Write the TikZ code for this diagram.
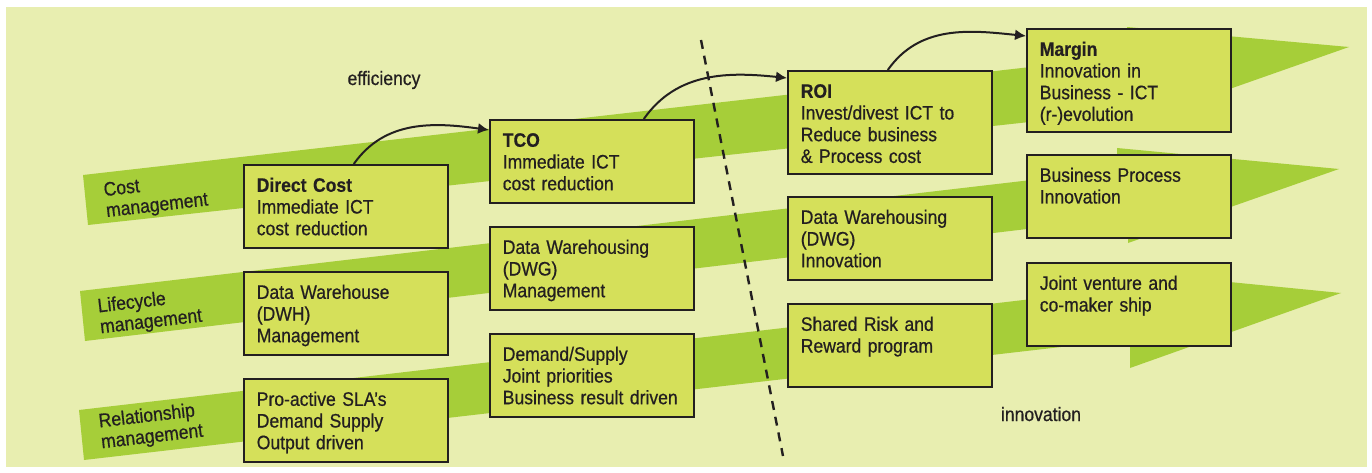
\documentclass[tikz,border=0pt]{standalone}
\usepackage{fontspec}
\setmainfont[FakeStretch=0.9, UprightFeatures={FakeBold=0.6}, BoldFeatures={FakeBold=0.4}]{Liberation Sans}
\usepackage{tikz}
\usetikzlibrary{arrows.meta}

\definecolor{paper}{RGB}{232,238,176}
\definecolor{band}{RGB}{166,206,57}
\definecolor{card}{RGB}{213,224,90}
\definecolor{ink}{RGB}{35,31,32}

\tikzstyle{stage} = [draw=ink, line width=1.6pt, fill=card, anchor=north west, text=ink,
	inner xsep=13pt, inner ysep=0pt, text width=178pt, align=left,
	text height=27pt, text depth=56pt, font=\fontsize{19.5}{21.7}\selectfont]
\tikzstyle{tall} = [text depth=76pt]
\tikzstyle{lane} = [text=ink, rotate=6.6, align=left, font=\fontsize{19.5}{21}\selectfont]
\tikzstyle{word} = [text=ink, anchor=base, font=\fontsize{19.5}{21.7}\selectfont]
\tikzstyle{line} = [draw=ink, line width=2pt, -{Latex[length=11pt,width=11pt]}]

\begin{document}
\begin{tikzpicture}[x=1pt,y=-1pt]
			
			\useasboundingbox (0,0) rectangle (1372,473);
			\fill[paper] (6,7) rectangle (1367,467);
			
			% three wide lanes with their heads
			\fill[band] (83,175) -- (1127,56) -- (1127,27) -- (1349,47) -- (1130,124) -- (1130,111) -- (88,225) -- cycle;
			\fill[band] (80,291) -- (1117,170) -- (1117,148) -- (1339,169) -- (1128,243) -- (1128,217) -- (85,341) -- cycle;
			\fill[band] (79,410) -- (1118,289) -- (1118,271) -- (1341,293) -- (1130,368) -- (1130,339) -- (84,460) -- cycle;
			
			\node[lane] (cost) at (156,196) {Cost\\management};
			\node[lane] (life) at (150,312) {Lifecycle\\management};
			\node[lane] (rel) at (151,427) {Relationship\\management};
			
			\node[word] (eff) at (384,85) {efficiency};
			\node[word] (inn) at (1041,421) {innovation};
			
			% column positions
			\def\ca{243}
			\def\cb{489}
			\def\cc{787}
			\def\cd{1026}
			
			\node[stage] (dc) at (\ca,164) {\textbf{Direct Cost}\\Immediate ICT\\cost reduction};
			\node[stage] (dwh) at (\ca,271) {Data Warehouse\\(DWH)\\Management};
			\node[stage] (sla) at (\ca,378) {Pro-active SLA’s\\Demand Supply\\Output driven};
			
			\node[stage] (tco) at (\cb,119) {\textbf{TCO}\\Immediate ICT\\cost reduction};
			\node[stage] (dwgm) at (\cb,226) {Data Warehousing\\(DWG)\\Management};
			\node[stage] (dsp) at (\cb,333) {Demand/Supply\\Joint priorities\\Business result driven};
			
			\node[stage, tall] (roi) at (\cc,70) {\textbf{ROI}\\Invest/divest ICT to\\Reduce business\\\& Process cost};
			\node[stage] (dwgi) at (\cc,196) {Data Warehousing\\(DWG)\\Innovation};
			\node[stage] (srr) at (\cc,303) {Shared Risk and\\Reward program};
			
			\node[stage, tall] (mrg) at (\cd,28) {\textbf{Margin}\\Innovation in\\Business - ICT\\(r-)evolution};
			\node[stage] (bpi) at (\cd,154) {Business Process\\Innovation};
			\node[stage] (jv) at (\cd,262) {Joint venture and\\co-maker ship};
			
			% value steps along the top lane
			\path[line] ([xshift=8pt]dc.north) to[out=55,in=172] ([yshift=-11pt]tco.north west);
			\path[line] ([xshift=52pt]tco.north) to[out=55,in=174] ([yshift=-8pt]roi.north west);
			\path[line] ([xshift=-2pt]roi.north) to[out=55,in=174] ([yshift=-8pt]mrg.north west);
			
			% border between efficiency and innovation
			\coordinate (cut top) at (701,40);
			\coordinate (cut bottom) at (783,456);
			\draw[ink, line width=2.4pt, dash pattern=on 9pt off 7pt] (cut top) -- (cut bottom);
			
\end{tikzpicture}
\end{document}
